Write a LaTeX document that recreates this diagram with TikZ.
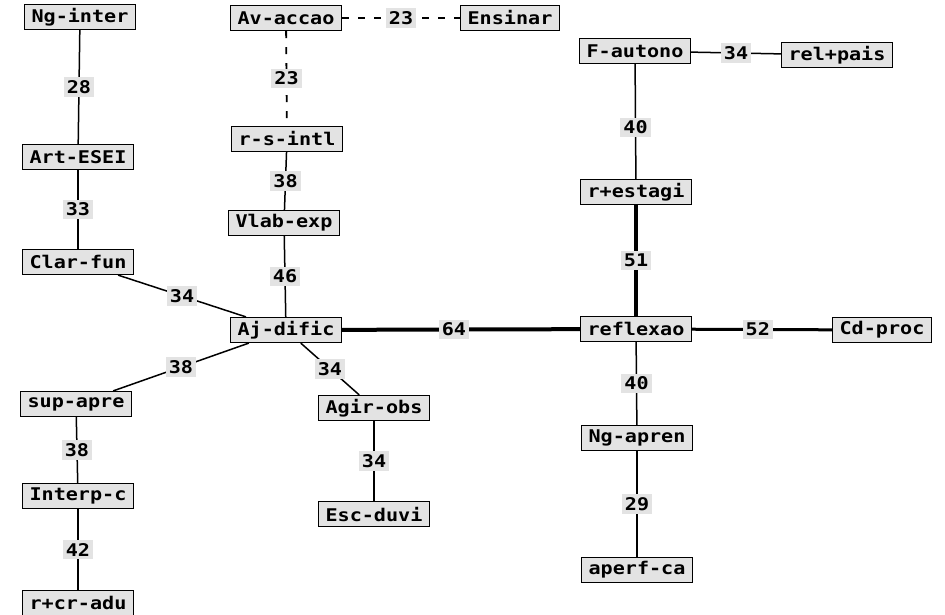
\documentclass[tikz,border=0pt]{standalone}
\usepackage{fontspec}
\newfontfamily\boxfont[FakeStretch=1.15]{DejaVu Sans Mono}
\usetikzlibrary{positioning}
\tikzset{%
    concept/.style={
      rectangle,
      draw,
      fill=gray!22,
      line width=1.2pt,
      font=\boxfont\bfseries\fontsize{17.5}{17.5}\selectfont,
      inner xsep=7pt,
      minimum height=25pt
    },
    weight/.style={
      rectangle,
      fill=gray!22,
      font=\boxfont\bfseries\fontsize{17.5}{17.5}\selectfont,
      inner sep=3pt
    },
    link/.style={line width=1.5pt},
    strong link/.style={line width=4pt},
    medium link/.style={line width=3pt},
    weak link/.style={line width=1.8pt, dash pattern=on 7pt off 9pt}
  }
\begin{document}
\begin{tikzpicture}[x=1pt, y=-1pt]
      \useasboundingbox (0,0) rectangle (945,614);

      \node [concept] (nginter) at (80,17) {Ng-inter};
      \node [concept] (artesei) at (78,157) {Art-ESEI};
      \node [concept] (clarfun) at (78,262) {Clar-fun};

      \node [concept] (avaccao) at (286,18) {Av-accao};
      \node [concept] (ensinar) at (510,18) {Ensinar};
      \node [concept] (rsintl) at (287,139) {r-s-intl};
      \node [concept] (vlabexp) at (284,223) {Vlab-exp};
      \node [concept] (ajdific) at (286,330) {Aj-dific};

      \node [concept] (supapre) at (76,404) {sup-apre};
      \node [concept] (interpc) at (78,496) {Interp-c};
      \node [concept] (rcradu) at (78,603) {r+cr-adu};

      \node [concept] (agirobs) at (374,408) {Agir-obs};
      \node [concept] (escduvi) at (374,514) {Esc-duvi};

      \node [concept] (fautono) at (635,51) {F-autono};
      \node [concept] (relpais) at (837,55) {rel+pais};
      \node [concept] (restagi) at (636,192) {r+estagi};
      \node [concept] (reflexao) at (636,329) {reflexao};
      \node [concept] (cdproc) at (882,330) {Cd-proc};
      \node [concept] (ngapren) at (637,438) {Ng-apren};
      \node [concept] (aperfca) at (637,570) {aperf-ca};

      \draw [link] (nginter) -- node [weight] {28} (artesei);
      \draw [link] (artesei) -- node [weight] {33} (clarfun);
      \draw [link] (clarfun) -- node [weight] {34} (ajdific);

      \draw [weak link] (avaccao) -- node [weight] {23} (ensinar);
      \draw [weak link] (avaccao) -- node [weight] {23} (rsintl);
      \draw [link] (rsintl) -- node [weight] {38} (vlabexp);
      \draw [link] (vlabexp) -- node [weight] {46} (ajdific);

      \draw [link] (ajdific) -- node [weight] {38} (supapre);
      \draw [link] (supapre) -- node [weight] {38} (interpc);
      \draw [link] (interpc) -- node [weight] {42} (rcradu);

      \draw [link] (ajdific) -- node [weight] {34} (agirobs);
      \draw [link] (agirobs) -- node [weight] {34} (escduvi);

      \draw [strong link] (ajdific) -- node [weight, pos=0.47] {64} (reflexao);

      \draw [link] (fautono) -- node [weight] {34} (relpais);
      \draw [link] (fautono) -- node [weight, pos=0.55] {40} (restagi);
      \draw [strong link] (restagi) -- node [weight] {51} (reflexao);
      \draw [medium link] (reflexao) -- node [weight, pos=0.47] {52} (cdproc);
      \draw [link] (reflexao) -- node [weight] {40} (ngapren);
      \draw [link] (ngapren) -- node [weight] {29} (aperfca);
    \end{tikzpicture}
\end{document}
